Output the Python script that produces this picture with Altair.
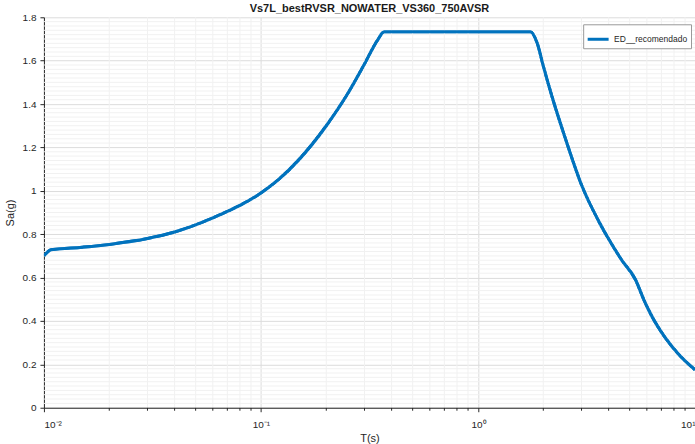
import altair as alt
import pandas as pd

TITLE = "Vs7L_bestRVSR_NOWATER_VS360_750AVSR"
SERIES = "ED__recomendado"

T = [0.01, 0.0108, 0.015, 0.02, 0.03, 0.04, 0.05, 0.06, 0.07, 0.08,
     0.1, 0.12, 0.15, 0.2, 0.25, 0.3, 0.344, 0.37,
     1.0, 1.746, 1.875, 2.0, 2.2, 2.53, 3.02, 3.6, 4.07, 4.6, 5.32, 5.8,
     6.3, 7.3, 8.4, 10.0]
SA = [0.70, 0.728, 0.740, 0.753, 0.780, 0.810, 0.843, 0.875, 0.905, 0.933,
      0.99, 1.05, 1.145, 1.30, 1.445, 1.585, 1.694, 1.733,
      1.733, 1.733, 1.68, 1.575, 1.43, 1.24, 1.02, 0.86, 0.765, 0.68, 0.59, 0.50,
      0.425, 0.322, 0.247, 0.175]

X_MAJOR = [0.01, 0.1, 1, 10]
Y_MAJOR = [0, 0.2, 0.4, 0.6, 0.8, 1.0, 1.2, 1.4, 1.6, 1.8]
X_MINOR = [m * 10.0 ** e for e in (-2, -1, 0) for m in range(2, 10)]
Y_MINOR = [round(i * 0.02, 2) for i in range(91) if i % 10 != 0]

W, H = 652, 391

df = pd.DataFrame({"T": T, "Sa": SA, "series": [SERIES] * len(T)})
dxm = pd.DataFrame({"T": X_MINOR})
dym = pd.DataFrame({"Sa": Y_MINOR})

xs = alt.Scale(type="log", domain=[0.01, 10], nice=False)
ys = alt.Scale(domain=[0, 1.8], nice=False, zero=False)

label_expr = ("round(log(datum.value)/LN10) == -2 ? '10⁻²' : "
              "round(log(datum.value)/LN10) == -1 ? '10⁻¹' : "
              "round(log(datum.value)/LN10) == 0 ? '10⁰' : '10¹'")

x_axis = alt.Axis(values=X_MAJOR, labelExpr=label_expr, title="T(s)",
                  grid=True, gridColor="#dcdcdc", tickSize=4,
                  labelPadding=8, titlePadding=3)
y_axis = alt.Axis(values=Y_MAJOR, format="~g", title="Sa(g)",
                  grid=True, gridColor="#dcdcdc", tickSize=4,
                  labelPadding=4, titlePadding=7)

X = alt.X("T:Q", scale=xs, axis=x_axis)
Y = alt.Y("Sa:Q", scale=ys, axis=y_axis)

line = alt.Chart(df).mark_line(strokeWidth=3, clip=True,
                               interpolate="monotone").encode(
    x=X, y=Y,
    color=alt.Color("series:N", scale=alt.Scale(range=["#0072BD"]),
                    legend=alt.Legend(title=None, orient="none", legendX=540,
                                      legendY=7, strokeColor="#9a9a9a",
                                      fillColor="white", padding=3,
                                      symbolType="stroke", symbolSize=440,
                                      symbolStrokeWidth=3, labelFontSize=8.5,
                                      labelOffset=4,
                                      labelColor="#262626",
                                      labelFont="Liberation Sans")),
)
minor_h = alt.Chart(dym).mark_rule(color="#f1f1f1", strokeWidth=1).encode(y=Y)
minor_v = alt.Chart(dxm).mark_rule(color="#f1f1f1", strokeWidth=1).encode(x=X)
minor_ticks = alt.Chart(dxm).mark_rule(color="#262626", strokeWidth=1).encode(
    x=X, y=alt.value(H), y2=alt.value(H + 3))

chart = alt.layer(line, minor_h, minor_v, minor_ticks, line).properties(
    width=W, height=H,
    title=alt.Title(TITLE, fontSize=11, fontWeight="bold", offset=-2,
                    font="Liberation Sans", color="#1a1a1a"),
    autosize=alt.AutoSizeParams(type="none"),
    padding={"left": 44, "top": 17, "right": 0, "bottom": 36},
).configure_view(stroke=None).configure_axis(
    domainColor="#262626", tickColor="#262626", labelColor="#262626",
    titleColor="#262626", labelFont="Liberation Sans", titleFont="Liberation Sans",
    labelFontSize=10, titleFontSize=11, titleFontWeight="normal",
)

chart.save("out.html", embed_options={"renderer": "svg", "actions": False})
